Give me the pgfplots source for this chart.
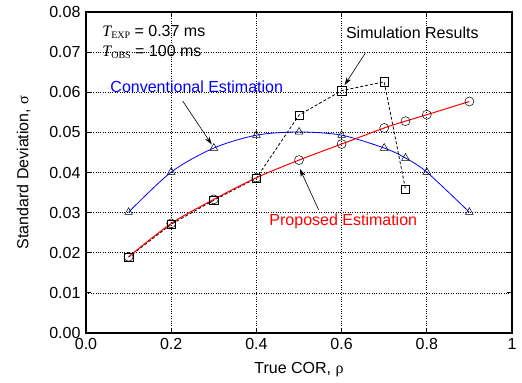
\documentclass[border=0pt]{standalone}
\usepackage{pgfplots}
\pgfplotsset{compat=1.18}
\usepackage{fontspec}
\setmainfont{Liberation Sans}
\newfontfamily\serif{Liberation Serif}
\usetikzlibrary{arrows.meta}
\begin{document}
\fontsize{16}{19}\selectfont
\begin{tikzpicture}
\path (-86pt,-47pt) rectangle (436pt,333pt);
\begin{axis}[
  at={(0,0)}, anchor=south west,
  scale only axis, width=426pt, height=321pt,
  xmin=0, xmax=1, ymin=0, ymax=0.08,
  scaled y ticks=false, scaled x ticks=false,
  xtick={0,0.2,0.4,0.6,0.8,1},
  xticklabels={0.0,0.2,0.4,0.6,0.8,1},
  ytick={0,0.01,0.02,0.03,0.04,0.05,0.06,0.07,0.08},
  yticklabels={0.00,0.01,0.02,0.03,0.04,0.05,0.06,0.07,0.08},
  grid=major,
  major grid style={black, dotted, line width=0.7pt},
  tick align=inside, major tick length=5pt,
  axis line style={line width=1.2pt},
  tick style={black, line width=0.8pt},
  ticklabel style={font=\fontsize{16}{19}\selectfont},
  label style={font=\fontsize{16}{19}\selectfont},
  xlabel={True COR, {\serif ρ}},
  ylabel={Standard Deviation, {\serif σ}},
  ylabel style={yshift=8pt},
  xlabel style={yshift=-2pt},
  /pgf/number format/assume math mode=true,
  clip=false,
]
\addplot[blue, line width=0.8pt, smooth, mark=triangle, mark size=4.5pt,
  mark options={black, solid, line width=0.5pt, fill=none}] coordinates {
 (0.1,0.0301) (0.2,0.0401) (0.3,0.0461) (0.4,0.0493) (0.5,0.0501)
 (0.6,0.0493) (0.7,0.0461) (0.75,0.0436) (0.8,0.0401) (0.9,0.0301)};
\addplot[black, densely dashed, line width=0.8pt, mark=square, mark size=4.2pt,
  mark options={black, solid, line width=0.5pt, fill=none}] coordinates {
 (0.1,0.0189) (0.2,0.0271) (0.3,0.0331) (0.4,0.0386) (0.5,0.0543)
 (0.6,0.0604) (0.7,0.0626) (0.75,0.0358)};
\addplot[red, line width=1pt, smooth, mark=o, mark size=4.5pt,
  mark options={black, solid, line width=0.5pt, fill=none}] coordinates {
 (0.1,0.0190) (0.2,0.0273) (0.3,0.0333) (0.4,0.0387) (0.5,0.0431)
 (0.6,0.0471) (0.7,0.0511) (0.75,0.0528) (0.8,0.0544) (0.9,0.0577)};

\node[anchor=base west, inner sep=0pt] at (axis cs:0.038,0.0740)
  {{\serif\itshape T}\raisebox{-0.3ex}{\serif\fontsize{10}{12}\selectfont EXP} = 0.37 ms};
\node[anchor=base west, inner sep=0pt] at (axis cs:0.038,0.0690)
  {{\serif\itshape T}\raisebox{-0.3ex}{\serif\fontsize{10}{12}\selectfont OBS} = 100 ms};

\node[black] at (axis cs:0.766,0.0747) {Simulation Results};
\draw[-{Stealth[length=8pt,width=5pt]}, line width=0.6pt] (axis cs:0.656,0.0698) -- (axis cs:0.607,0.0618);

\node[blue] at (axis cs:0.26,0.0613) {Conventional Estimation};
\draw[-{Stealth[length=8pt,width=5pt]}, line width=0.6pt] (axis cs:0.227,0.0578) -- (axis cs:0.295,0.0470);

\node[red] at (axis cs:0.604,0.0279) {Proposed Estimation};
\draw[-{Stealth[length=8pt,width=5pt]}, line width=0.6pt] (axis cs:0.546,0.0307) -- (axis cs:0.502,0.0409);
\end{axis}
\end{tikzpicture}
\end{document}
